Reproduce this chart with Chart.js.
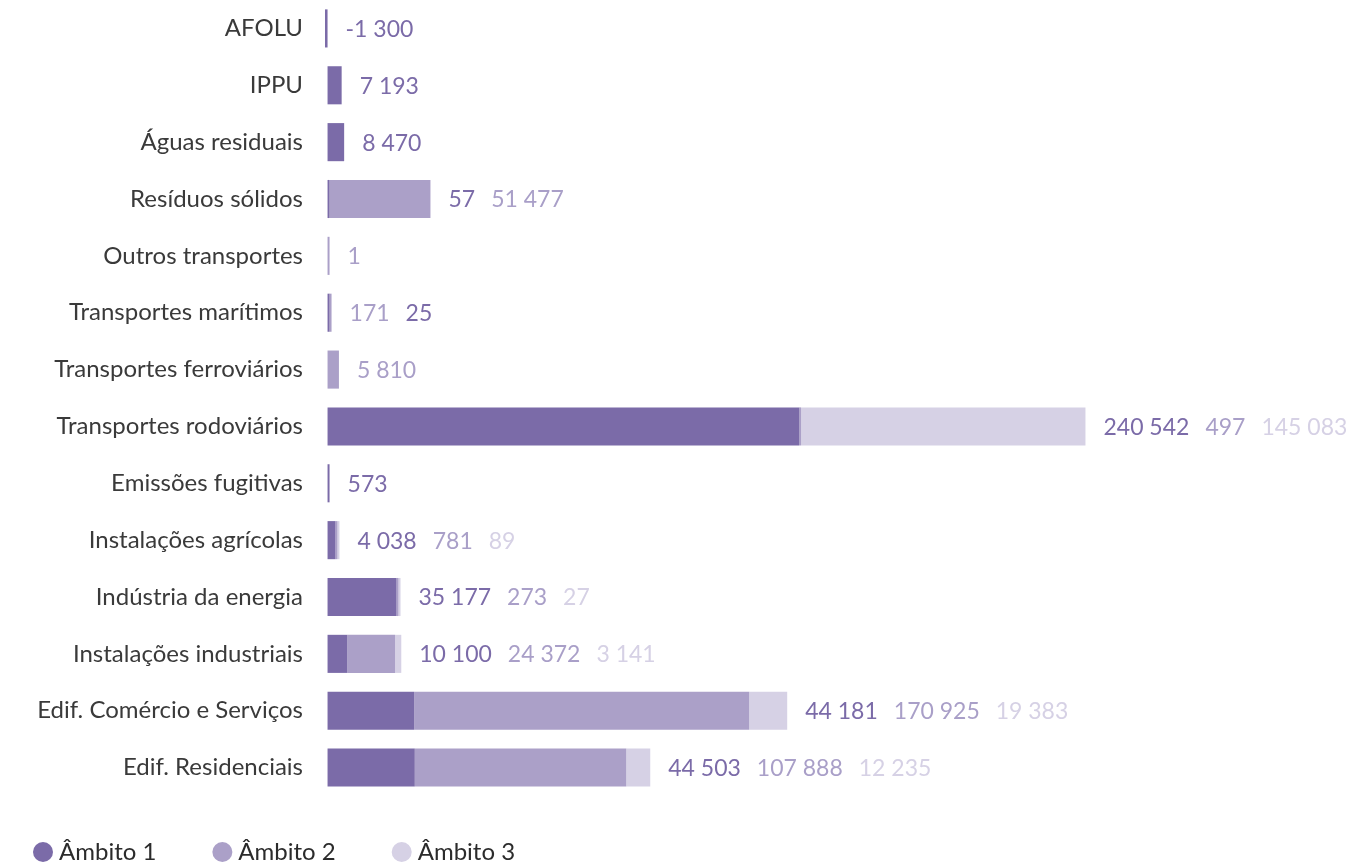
<!DOCTYPE html>
<html>
<head>
<meta charset="utf-8">
<script src="https://cdn.jsdelivr.net/npm/chart.js@4.4.1/dist/chart.umd.min.js"></script>
<style>
  html, body { margin: 0; padding: 0; background: #ffffff; }
  #wrap { position: relative; width: 1370px; height: 868px; }
</style>
</head>
<body>
<div id="wrap"><canvas id="c"></canvas></div>
<script>
const categories = ['AFOLU', 'IPPU', 'Águas residuais', 'Resíduos sólidos', 'Outros transportes',
  'Transportes marítimos', 'Transportes ferroviários', 'Transportes rodoviários', 'Emissões fugitivas',
  'Instalações agrícolas', 'Indústria da energia', 'Instalações industriais',
  'Edif. Comércio e Serviços', 'Edif. Residenciais'];
const seriesNames = ['Âmbito 1', 'Âmbito 2', 'Âmbito 3'];
const ambito1 = [-1300, 7193, 8470, 57, null, 25, null, 240542, 573, 4038, 35177, 10100, 44181, 44503];
const ambito2 = [null, null, null, 51477, 1, 171, 5810, 497, null, 781, 273, 24372, 170925, 107888];
const ambito3 = [null, null, null, null, null, null, null, 145083, null, 89, 27, 3141, 19383, 12235];

const barColors = ['#7b6ba8', '#aba0c8', '#d6d1e5'];
const textColors = ['#7b6ba8', '#a99fc8', '#d6d1e5'];
const FONT = 'Lato, "Open Sans", sans-serif';

function fmt(v) {
  const neg = v < 0;
  let s = String(Math.abs(v));
  let out = '';
  while (s.length > 3) { out = ' ' + s.slice(-3) + out; s = s.slice(0, -3); }
  return (neg ? '-' : '') + s + out;
}

const valueLabels = {
  id: 'valueLabels',
  afterDatasetsDraw(chart) {
    const ctx = chart.ctx;
    const xs = chart.scales.x;
    const zero = xs.getPixelForValue(0);
    ctx.save();
    ctx.font = '23px ' + FONT;
    ctx.textBaseline = 'middle';
    ctx.textAlign = 'left';
    categories.forEach((cat, i) => {
      let right = zero;
      let yc = null;
      chart.data.datasets.forEach((ds, d) => {
        const el = chart.getDatasetMeta(d).data[i];
        if (ds.data[i] !== null && el) {
          right = Math.max(right, el.x, el.base);
          yc = el.y;
        }
      });
      if (yc === null) return;
      let order = [0, 1, 2];
      if (i === 5) order = [1, 0];
      let x = right + 18;
      order.forEach(d => {
        const v = chart.data.datasets[d].data[i];
        if (v === null || v === undefined) return;
        const t = fmt(v);
        ctx.fillStyle = textColors[d];
        ctx.fillText(t, x, yc + 1);
        x += ctx.measureText(t).width + 16;
      });
    });
    ctx.restore();
  }
};

const customLegend = {
  id: 'customLegend',
  afterDraw(chart) {
    const ctx = chart.ctx;
    ctx.save();
    ctx.font = '24px ' + FONT;
    ctx.textBaseline = 'middle';
    ctx.textAlign = 'left';
    let x = 33;
    const y = 852;
    seriesNames.forEach((name, d) => {
      ctx.fillStyle = barColors[d];
      ctx.beginPath();
      ctx.arc(x + 10, y, 10, 0, Math.PI * 2);
      ctx.fill();
      ctx.fillStyle = '#2b2b2b';
      ctx.fillText(name, x + 26, y);
      x += 26 + ctx.measureText(name).width + 56;
    });
    ctx.restore();
  }
};

new Chart(document.getElementById('c'), {
  type: 'bar',
  data: {
    labels: categories,
    datasets: [
      { label: seriesNames[0], data: ambito1, backgroundColor: barColors[0] },
      { label: seriesNames[1], data: ambito2, backgroundColor: barColors[1] },
      { label: seriesNames[2], data: ambito3, backgroundColor: barColors[2] }
    ]
  },
  options: {
    indexAxis: 'y',
    responsive: true,
    maintainAspectRatio: false,
    animation: false,
    layout: { padding: { top: 0, right: 0, bottom: 72, left: 0 } },
    datasets: { bar: { categoryPercentage: 1, barPercentage: 0.67, minBarLength: 2, borderWidth: 0 } },
    plugins: { legend: { display: false }, tooltip: { enabled: false } },
    scales: {
      x: { stacked: true, display: false, min: -1300, max: 531800 },
      y: {
        stacked: true,
        grid: { display: false, drawTicks: false },
        border: { display: false },
        ticks: { color: '#3a3a3a', font: { family: FONT, size: 24 }, padding: 22 },
        afterFit(scale) { scale.width = 325; scale.paddingTop = 0; scale.paddingBottom = 0; }
      }
    }
  },
  plugins: [valueLabels, customLegend]
});
</script>
</body>
</html>
